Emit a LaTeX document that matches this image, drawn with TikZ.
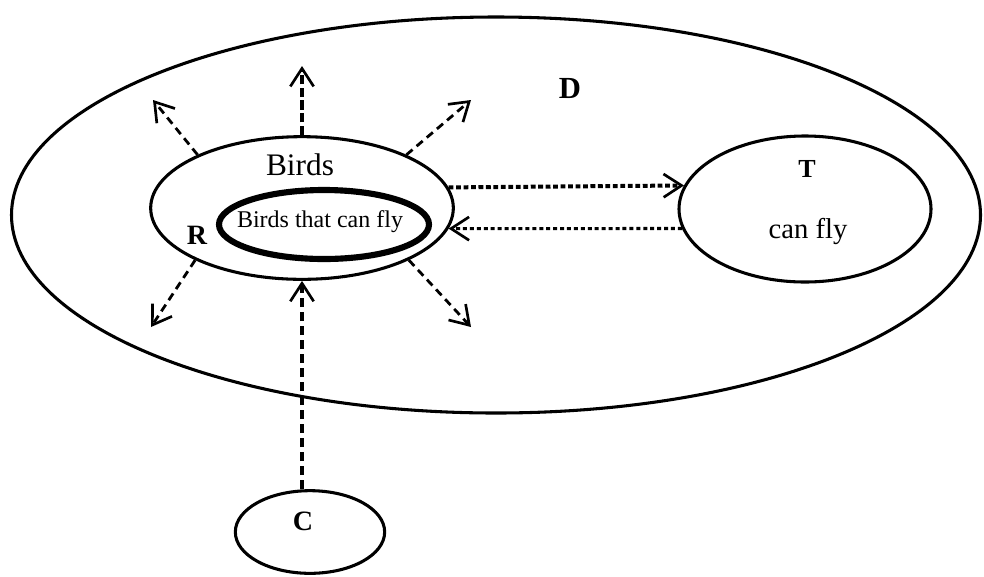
\documentclass[tikz,border=0pt]{standalone}
\usepackage{fontspec}
\setmainfont{LiberationSerif}[Extension=.ttf, UprightFont=*-Regular, BoldFont=*-Bold, ItalicFont=*-Italic, BoldItalicFont=*-BoldItalic]
\usetikzlibrary{arrows.meta,shapes.geometric}

\tikzset{
  region/.style={draw, ellipse, line width=2.3pt, inner sep=0pt},
  barb/.style={-{Straight Barb[length=13.5pt,width=17.5pt,line width=2pt]}},
  ray/.style={barb, line width=2.1pt, dash pattern=on 6pt off 4pt},
  thickray/.style={barb, line width=3pt, dash pattern=on 7pt off 2.5pt},
  feed/.style={barb, line width=2.3pt, dash pattern=on 7pt off 3.5pt},
  link/.style={barb, line width=3pt, dash pattern=on 3.6pt off 2pt},
  backlink/.style={barb, line width=2.3pt, dash pattern=on 3pt off 2.2pt},
  lbl/.style={anchor=base, inner sep=0pt},
}

\begin{document}
\begin{tikzpicture}[x=0.75pt,y=-0.75pt]
  \useasboundingbox (0,0) rectangle (984,576);

  % sets
  \node[region, minimum width=726.75pt, minimum height=297pt] (D) at (496,215) {};
  \node[region, minimum width=227pt, minimum height=107pt] (R) at (302,208) {};
  \node[region, line width=4.6pt, minimum width=157.5pt, minimum height=51.75pt] (F) at (324,224.5) {};
  \node[region, minimum width=189pt, minimum height=109.5pt] (T) at (805,209) {};
  \node[region, minimum width=112pt, minimum height=62pt] (C) at (310,532) {};

  % labels
  \node[lbl, font=\fontsize{23}{23}\selectfont\bfseries] (lD) at (570,98) {D};
  \node[lbl, font=\fontsize{23.5}{23.5}\selectfont] (lBirds) at (300,175) {Birds};
  \node[lbl, font=\fontsize{18}{18}\selectfont] (lFly) at (320,227) {Birds that can fly};
  \node[lbl, font=\fontsize{21}{21}\selectfont\bfseries] (lR) at (197,244) {R};
  \node[lbl, font=\fontsize{19.5}{19.5}\selectfont\bfseries] (lT) at (807,177) {T};
  \node[lbl, font=\fontsize{21.5}{21.5}\selectfont] (lCan) at (808,238) {can fly};
  \node[lbl, font=\fontsize{21}{21}\selectfont\bfseries] (lC) at (303,530) {C};

  % ends of the outward arrows
  \coordinate (up) at (302,66);
  \coordinate (ul) at (153,100);
  \coordinate (ur) at (471,100);
  \coordinate (dl) at (151,327);
  \coordinate (dr) at (471,327);

  % outward arrows from R
  \draw[thickray] (R.north) -- (up);
  \draw[ray] (R.153) -- (ul);
  \draw[ray] (R.27) -- (ur);
  \draw[ray] (R.206) -- (dl);
  \draw[ray] (R.334) -- (dr);

  % R and T
  \draw[link] (R.8) -- (T.169);
  \draw[backlink] (T.189) -- (R.352);

  % C into R
  \draw[feed] (C.north -| R.south) -- (R.south);
\end{tikzpicture}
\end{document}
